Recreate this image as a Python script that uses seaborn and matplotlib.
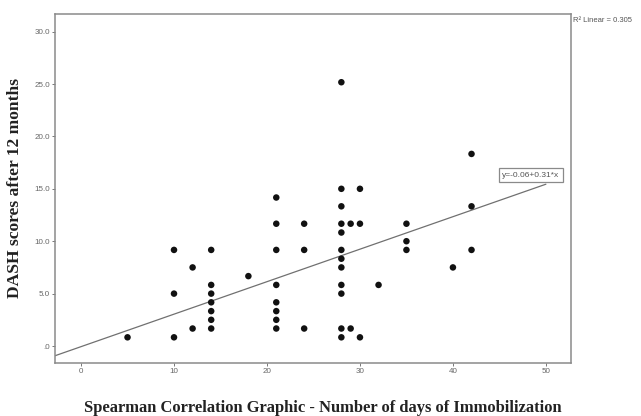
import numpy as np
import pandas as pd
import matplotlib
matplotlib.use("Agg")
import matplotlib.pyplot as plt
import seaborn as sns

# Data
days = [5,
        10, 10, 10,
        12, 12,
        14, 14, 14, 14, 14, 14, 14,
        18,
        21, 21, 21, 21, 21, 21, 21, 21,
        24, 24, 24,
        28, 28, 28, 28, 28, 28, 28, 28, 28, 28, 28, 28,
        29, 29,
        30, 30, 30,
        32,
        35, 35, 35,
        40,
        42, 42, 42]
dash = [0.83,
        9.17, 5.0, 0.83,
        7.5, 1.67,
        9.17, 5.83, 5.0, 4.17, 3.33, 2.5, 1.67,
        6.67,
        14.17, 11.67, 9.17, 5.83, 4.17, 3.33, 2.5, 1.67,
        11.67, 9.17, 1.67,
        25.17, 15.0, 13.33, 11.67, 10.83, 9.17, 8.33, 7.5, 5.83, 5.0, 1.67, 0.83,
        11.67, 1.67,
        15.0, 11.67, 0.83,
        5.83,
        11.67, 10.0, 9.17,
        7.5,
        18.33, 13.33, 9.17]

fit_intercept = -0.06
fit_slope = 0.31
r2_linear = 0.305
x_ticks = [0, 10, 20, 30, 40, 50]
y_ticks = [0, 5, 10, 15, 20, 25, 30]
y_tick_labels = [".0", "5.0", "10.0", "15.0", "20.0", "25.0", "30.0"]

df = pd.DataFrame({"days": days, "dash": dash})

sns.set_style("white")
plt.rcParams["font.family"] = ["Liberation Sans", "DejaVu Sans"]

fig = plt.figure(figsize=(6.41, 4.16), dpi=100)
ax = fig.add_axes([55/641, 1-363/416, (571-55)/641, (363-14)/416])

xlim = (-2.8, 52.7)
ylim = (-1.62, 31.68)

fit_x = np.array([xlim[0], 50.0])
fit_y = fit_intercept + fit_slope * fit_x
sns.lineplot(x=fit_x, y=fit_y, ax=ax, color="#707070", linewidth=0.9, zorder=2)

sns.scatterplot(data=df, x="days", y="dash", ax=ax, color="#111111",
                s=22, edgecolor="none", zorder=3)

ax.set_xlim(*xlim)
ax.set_ylim(*ylim)
ax.set_xticks(x_ticks)
ax.set_xticklabels([str(t) for t in x_ticks])
ax.set_yticks(y_ticks)
ax.set_yticklabels(y_tick_labels)
ax.tick_params(axis="both", which="both", direction="out", length=2.5, width=0.7,
               color="#777777", labelsize=5.8, labelcolor="#666666", pad=1,
               left=True, bottom=True)
ax.set_xlabel("")
ax.set_ylabel("")
for sp in ax.spines.values():
    sp.set_color("#8a8a8a")
    sp.set_linewidth(1.1)

ax.text(48.4, 16.3, "y=-0.06+0.31*x", fontsize=6, color="#555555",
        ha="center", va="center", zorder=5,
        bbox=dict(boxstyle="square,pad=0.4", fc="white", ec="#8a8a8a", lw=0.9))

fig.text(573/641, 1-20/416, "R² Linear = %.3f" % r2_linear, fontsize=5.5,
         color="#555555", ha="left", va="center")

fig.text(323/641, 1-408/416,
         "Spearman Correlation Graphic - Number of days of Immobilization",
         family=["Liberation Serif", "DejaVu Serif"], fontweight="bold",
         fontsize=11.9, ha="center", va="center", color="#222222")
fig.text(15/641, 1-188/416, "DASH scores after 12 months",
         family=["Liberation Serif", "DejaVu Serif"], fontweight="bold",
         fontsize=12.6, ha="center", va="center", rotation=90, color="#222222")

fig.savefig("out.png", dpi=100)
